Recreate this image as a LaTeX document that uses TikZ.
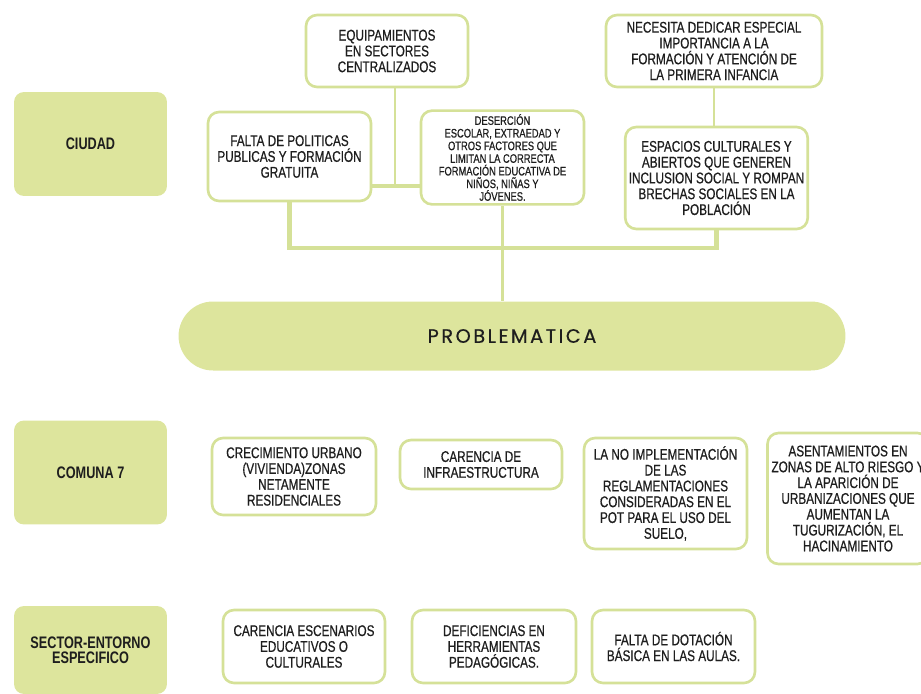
\documentclass[tikz,border=0pt]{standalone}
\usepackage{fontspec}
\usetikzlibrary{positioning,calc}
\newfontfamily\narrowfont[FakeStretch=0.76, UprightFeatures={FakeBold=0.6}]{Liberation Sans}
\newfontfamily\popfont[LetterSpace=13, FakeBold=0.5]{Poppins}
\definecolor{verdeclaro}{RGB}{221,229,157}
\definecolor{verdeborde}{RGB}{213,225,152}
\definecolor{texto}{RGB}{30,30,30}

\begin{document}
\begin{tikzpicture}[
      x=0.02cm, y=-0.02cm, text=texto,
      nivel/.style={fill=verdeclaro, rounded corners=0.2cm, minimum width=3.06cm,
        minimum height=2.08cm, align=center,
        font=\narrowfont\bfseries\fontsize{9.5}{8.8}\selectfont},
      problema/.style={draw=verdeborde, line width=1.5pt, fill=white,
        rounded corners=0.22cm, align=center, inner sep=2pt,
        font=\narrowfont\fontsize{8.8}{9}\selectfont},
      enlace/.style={draw=verdeborde, line width=1.8pt}
      ]

      % Para que la imagen no crezca.
      \path[use as bounding box] (0,0) rectangle (921,694);
      \clip (0,0) rectangle (921,694);

      \path node[nivel] (ciudad) at (90.5,144) {CIUDAD};
      \path node[nivel] (comuna) at (90.5,472.5) {COMUNA 7};
      \path node[nivel, minimum height=1.76cm] (sector) at (90.5,650) {SECTOR-ENTORNO\\ESPECIFICO};

      \path node[fill=verdeclaro, rounded corners=0.69cm, minimum width=13.34cm, minimum height=1.38cm,
        font=\popfont\fontsize{11}{12}\selectfont] (problematica) at (512,336) {PROBLEMATICA};

      % Ciudad
      \path node[problema, minimum width=3.24cm, minimum height=1.44cm] (equipamientos) at (387,51)
        {EQUIPAMIENTOS\\EN SECTORES\\CENTRALIZADOS};
      \path node[problema, minimum width=3.26cm, minimum height=1.78cm] (falta) at (289.5,156.5)
        {FALTA DE POLITICAS\\PUBLICAS Y FORMACIÓN\\GRATUITA};
      \path node[problema, minimum width=3.26cm, minimum height=1.82cm,
        font=\narrowfont\fontsize{7}{7.2}\selectfont] (desercion) at (502.5,157.5)
        {DESERCIÓN\\ESCOLAR, EXTRAEDAD Y\\OTROS FACTORES QUE\\LIMITAN LA CORRECTA\\FORMACIÓN EDUCATIVA DE\\NIÑOS, NIÑAS Y\\JÓVENES.};
      \path node[problema, minimum width=4.32cm, minimum height=1.44cm] (necesita) at (714,51)
        {NECESITA DEDICAR ESPECIAL\\IMPORTANCIA A LA\\FORMACIÓN Y ATENCIÓN DE\\LA PRIMERA INFANCIA};
      \path node[problema, minimum width=3.62cm, minimum height=2.04cm] (espacios) at (716.5,178)
        {ESPACIOS CULTURALES Y\\ABIERTOS QUE GENEREN\\INCLUSION SOCIAL Y ROMPAN\\BRECHAS SOCIALES EN LA\\POBLACIÓN};

      \coordinate (nudo) at (395,186);
      \coordinate (bus) at (503,248);
      \path[enlace, line width=1.5pt] (equipamientos.south -| nudo) -- (nudo);
      \path[enlace] (falta.east |- nudo) -- (desercion.west |- nudo);
      \path[enlace, line width=2.4pt] (falta.south) |- (espacios.south |- bus) -- (espacios.south);
      \path[enlace, line width=1.5pt] (desercion.south) -- (desercion.south |- problematica.north);
      \path[enlace, line width=0.9pt] (necesita.south) -- (necesita.south |- espacios.north);

      % Comuna 7
      \path node[problema, minimum width=3.28cm, minimum height=1.54cm] (crecimiento) at (294,476.5)
        {CRECIMIENTO URBANO\\(VIVIENDA)ZONAS\\NETAMENTE\\RESIDENCIALES};
      \path node[problema, minimum width=3.24cm, minimum height=0.98cm] (infraestructura) at (481,464.5)
        {CARENCIA DE\\INFRAESTRUCTURA};
      \path node[problema, minimum width=3.26cm, minimum height=2.22cm] (pot) at (665.5,493.5)
        {LA NO IMPLEMENTACIÓN\\DE LAS\\REGLAMENTACIONES\\CONSIDERADAS EN EL\\POT PARA EL USO DEL\\SUELO,};
      \path node[problema, minimum width=3.22cm, minimum height=2.62cm] (asentamientos) at (848,498.5)
        {ASENTAMIENTOS EN\\ZONAS DE ALTO RIESGO Y\\LA APARICIÓN DE\\URBANIZACIONES QUE\\AUMENTAN LA\\TUGURIZACIÓN, EL\\HACINAMIENTO};

      % Sector-entorno
      \path node[problema, minimum width=3.24cm, minimum height=1.46cm] (escenarios) at (304,646.5)
        {CARENCIA ESCENARIOS\\EDUCATIVOS O\\CULTURALES};
      \path node[problema, minimum width=3.28cm, minimum height=1.46cm] (deficiencias) at (494,646.5)
        {DEFICIENCIAS EN\\HERRAMIENTAS\\PEDAGÓGICAS.};
      \path node[problema, minimum width=3.26cm, minimum height=1.46cm] (dotacion) at (673.5,646.5)
        {FALTA DE DOTACIÓN\\BÁSICA EN LAS AULAS.};
    \end{tikzpicture}
\end{document}
